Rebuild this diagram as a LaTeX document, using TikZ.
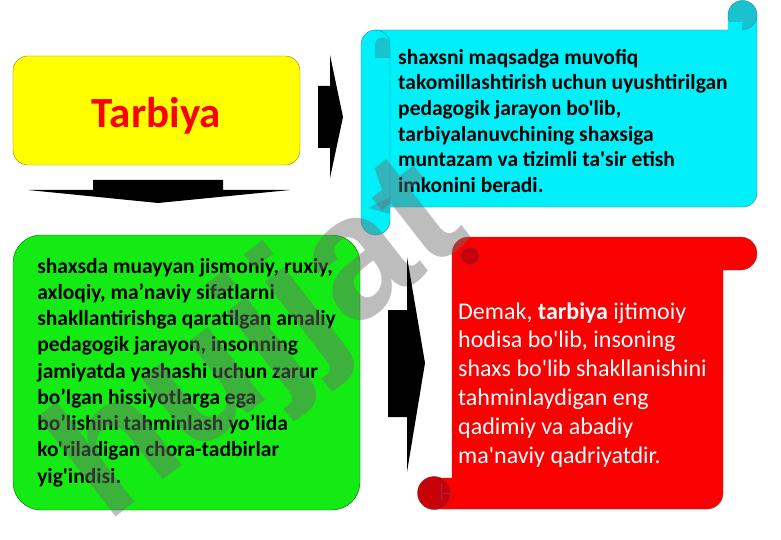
\documentclass[tikz,border=0pt]{standalone}
\usepackage{fontspec}
\newfontfamily\bodyfont{Carlito}
\newfontfamily\markfont{Liberation Sans}

\definecolor{boxyellow}{RGB}{255,255,0}
\definecolor{boxgreen}{RGB}{20,235,20}
\definecolor{scrollcyan}{RGB}{0,240,250}
\definecolor{rollcyan}{RGB}{25,195,205}
\definecolor{linecyan}{RGB}{40,140,170}
\definecolor{scrollred}{RGB}{250,0,0}
\definecolor{rollred}{RGB}{200,0,10}
\definecolor{linered}{RGB}{150,50,60}
\definecolor{markgray}{RGB}{110,110,110}

\tikzset{
  titlebox/.style = {draw=olive, fill=boxyellow, rounded corners=15, minimum width=287, minimum height=109,
                     text=red, font=\bodyfont\bfseries\fontsize{43}{50}\selectfont, text height=40, text depth=5},
  greenbox/.style = {draw=green!40!black, fill=boxgreen, rounded corners=28, minimum width=347, minimum height=275,
                     align=left, inner sep=0pt, font=\bodyfont\bfseries\fontsize{21.5}{26.25}\selectfont},
  scrolltext/.style = {align=left, inner sep=0pt, anchor=north west},
  blockarrow/.style = {fill=black}
}

\begin{document}
\begin{tikzpicture}[x=1pt, y=-1pt]
\useasboundingbox[fill=white] (0,0) rectangle (781,540);

% Title box and its definition
\node[titlebox] (title) at (156.5,110.5) {Tarbiya};
\node[greenbox] (meaning) at (186.5,372.5) {shaxsda muayyan jismoniy, ruxiy,\\
axloqiy, ma’naviy sifatlarni\\
shakllantirishga qaratilgan amaliy\\
pedagogik jarayon, insonning\\
jamiyatda yashashi uchun zarur\\
bo’lgan hissiyotlarga ega\\
bo’lishini tahminlash yo’lida\\
ko'riladigan chora-tadbirlar\\
yig'indisi.};

% Cyan scroll (vertical)
\filldraw[fill=scrollcyan, draw=linecyan] (375,30) -- (728,30) -- (728,15) -- (757,15) -- (757,193)
  arc[start angle=0, end angle=90, radius=14] -- (375,207) -- cycle;
\filldraw[fill=rollcyan, draw=linecyan] (742.5,15) circle[radius=14.5];
\fill[scrollcyan] (728,22) rectangle (742,30);
\filldraw[fill=scrollcyan, draw=linecyan, rounded corners=14.5] (361,30) rectangle (390,235);
\fill[rollcyan] (375,58) -- (375,45) arc[start angle=180, end angle=360, radius=7.5] -- (390,58) -- cycle;
\fill[rollcyan] (368,208) -- (390,197) -- (390,214) -- cycle;
\node[scrolltext, font=\bodyfont\bfseries\fontsize{21.5}{25.6}\selectfont] (goal) at (398,49)
  {shaxsni maqsadga muvofiq\\
   takomillashtirish uchun uyushtirilgan\\
   pedagogik jarayon bo'lib,\\
   tarbiyalanuvchining shaxsiga\\
   muntazam va tizimli ta'sir etish\\
   imkonini beradi.};

% Red scroll (horizontal)
\filldraw[fill=scrollred, draw=linered] (452,253) -- (723,253) -- (723,493)
  arc[start angle=0, end angle=90, radius=16] -- (434,509) -- (434,478) -- (452,478) -- cycle;
\filldraw[fill=scrollred, draw=linered, rounded corners=16.5] (452,237) rectangle (757,270);
\filldraw[fill=rollred, draw=linered] (470,256) circle[radius=9];
\filldraw[fill=rollred, draw=linered] (434,493) circle[radius=16.5];
\draw[linered] (441,493) -- (451,493);
\draw[linered] (441,484) -- (441,500);
\node[scrolltext, text=white, font=\bodyfont\fontsize{24}{28.8}\selectfont] (summary) at (458,302)
  {Demak, \textbf{tarbiya} ijtimoiy\\
   hodisa bo'lib, insoning\\
   shaxs bo'lib shakllanishini\\
   tahminlaydigan eng\\
   qadimiy va abadiy\\
   ma'naviy qadriyatdir.};

% Watermark
\node[text=markgray, text opacity=0.45, rotate=38, font=\markfont\bfseries\fontsize{175}{175}\selectfont]
  (mark) at (262,345) {hujjat};

% Block arrows
\fill[blockarrow] (318,86) -- (330,86) -- (330,55) -- (343,117) -- (330,178) -- (330,148) -- (318,148) -- cycle;
\fill[blockarrow] (93,180) -- (223,180) -- (223,190) -- (290,190) -- (158,203) -- (28,190) -- (93,190) -- cycle;
\fill[blockarrow] (388,310) -- (407,310) -- (407,257) -- (425,363) -- (407,472) -- (407,417) -- (388,417) -- cycle;

\end{tikzpicture}
\end{document}
